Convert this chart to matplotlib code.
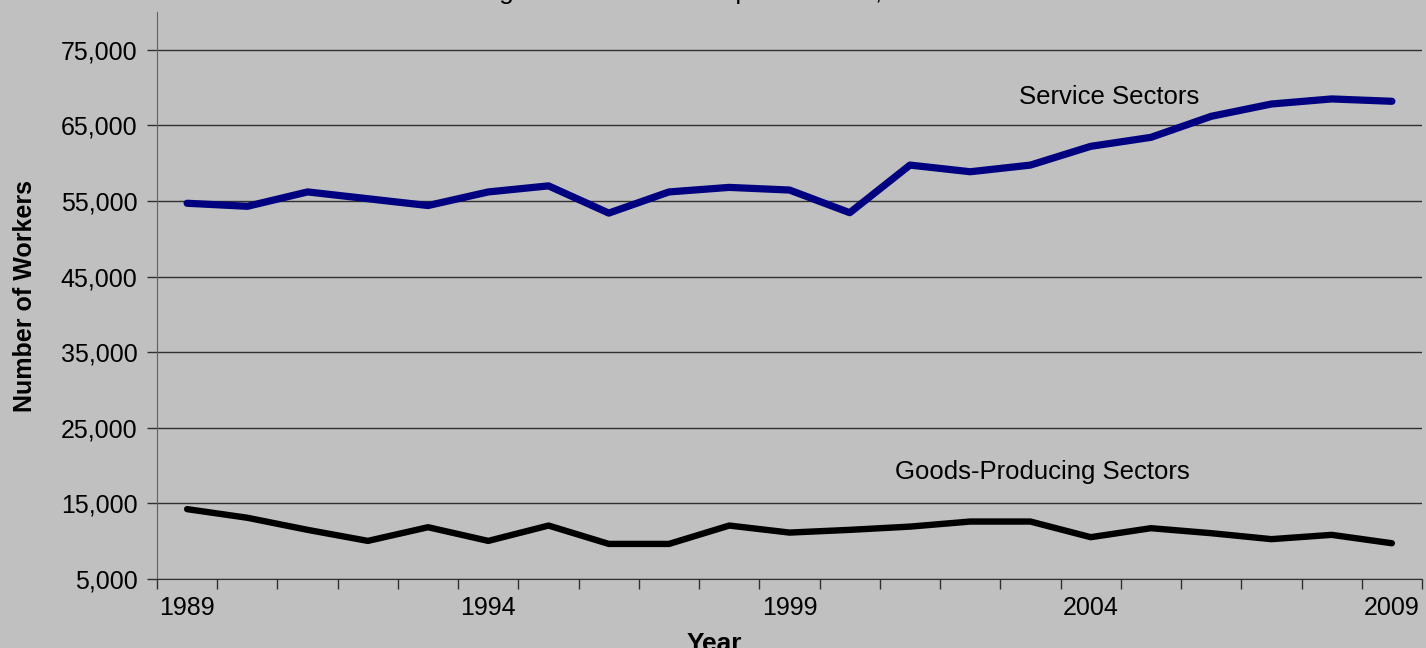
import numpy as np
import matplotlib.pyplot as plt
from matplotlib.ticker import FuncFormatter

plt.rcParams['font.family'] = ['Liberation Sans', 'DejaVu Sans']

years = list(range(1989, 2010))
service = [54700, 54300, 56200, 55300, 54400, 56200, 57000, 53400, 56200, 56800, 56450,
           53450, 59750, 58870, 59750, 62230, 63420, 66200, 67830, 68500, 68190]
goods = [14240, 13100, 11500, 10040, 11850, 10040, 12070, 9640, 9640, 12070, 11140,
         11500, 11930, 12600, 12600, 10530, 11720, 11060, 10270, 10840, 9730]
y_ticks = [5000, 15000, 25000, 35000, 45000, 55000, 65000, 75000]
x_labels = [1989, 1994, 1999, 2004, 2009]

bg = '#c0c0c0'
fig = plt.figure(figsize=(14.26, 6.48), dpi=100, facecolor=bg)
ax = fig.add_axes([157 / 1426, 1 - 579 / 648, 1265 / 1426, 567 / 648])
ax.set_facecolor(bg)

ax.plot(years, service, color='#000080', lw=5.2, solid_capstyle='round', zorder=3)
ax.plot(years, goods, color='black', lw=4.6, solid_capstyle='round', zorder=3)

ax.set_xlim(1988.5, 2009.5)
ax.set_ylim(5000, 80000)
ax.set_yticks(y_ticks)
ax.yaxis.set_major_formatter(FuncFormatter(lambda v, p: f'{int(v):,}'))
ax.yaxis.grid(True, color='#303030', lw=1)
ax.set_axisbelow(True)

# category boundaries get the tick marks, labels sit in the middle
ax.set_xticks(np.arange(1988.5, 2010, 1.0))
ax.set_xticklabels([])
ax.set_xticks(x_labels, minor=True)
ax.set_xticklabels([str(y) for y in x_labels], minor=True)
ax.tick_params(axis='x', which='major', length=7, width=1, color='#303030')
ax.tick_params(axis='x', which='minor', length=0, pad=12, labelsize=18)
ax.tick_params(axis='y', length=7, width=1, color='#303030', pad=7, labelsize=18)

for s in ['top', 'right']:
    ax.spines[s].set_visible(False)
ax.spines['left'].set_color('#606060')
ax.spines['bottom'].set_color('#303030')

ax.set_ylabel('Number of Workers', fontsize=18, fontweight='bold')
ax.yaxis.set_label_coords(-0.095, 0.5)
fig.text(714 / 1426, -3 / 648, 'Year', ha='center', va='baseline',
         fontsize=19, fontweight='bold')
fig.text(752 / 1426, 1 + 1 / 648, 'Kingston Census Metropolitan Area, 1989 to 2009',
         ha='center', va='baseline', fontsize=19)

ax.text(2004.3, 68800, 'Service Sectors', ha='center', va='center', fontsize=18.5)
ax.text(2003.2, 19200, 'Goods-Producing Sectors', ha='center', va='center', fontsize=18.5)

fig.savefig('out.png', dpi=100, facecolor=bg)
